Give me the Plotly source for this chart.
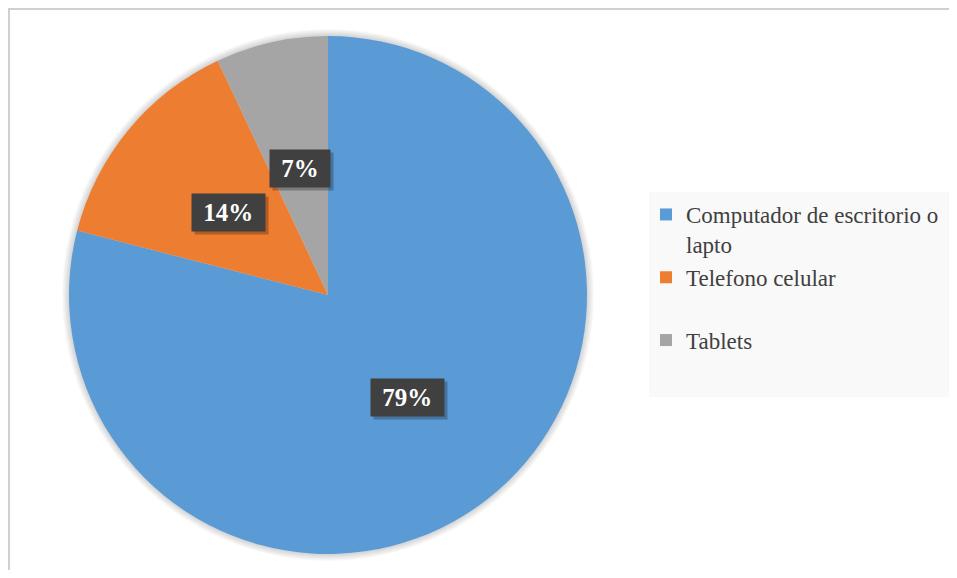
import math
import plotly.graph_objects as go

# ---- data ----
categories = ["Computador de escritorio o<br>lapto", "Telefono celular<br> ", "Tablets"]
values = [79, 14, 7]
colors = ["#5B9BD5", "#ED7D31", "#A5A5A5"]

# ---- layout geometry (screen pixels; page body has 8px margin) ----
OFF = 8
W, H = 957 - 2 * OFF, 578 - 2 * OFF
CX, CY, R = 328, 295, 259
SERIF = "Liberation Serif, Times New Roman, serif"


def px(x):
    return (x - OFF) / W


def py(y):
    return 1 - (y - OFF) / H


fig = go.Figure()
fig.add_trace(go.Pie(
    labels=categories,
    values=values,
    marker=dict(colors=colors, line=dict(width=0)),
    sort=False,
    direction="clockwise",
    rotation=0,
    textinfo="none",
    hoverinfo="label+percent",
    domain=dict(x=[px(CX - R), px(CX + R)], y=[py(CY + R), py(CY - R)]),
))

# soft shadow around pie
shapes = []
for i in range(1, 8):
    rr = R + i
    shapes.append(dict(type="circle", xref="paper", yref="paper",
                       x0=px(CX - rr), x1=px(CX + rr), y0=py(CY + rr), y1=py(CY - rr),
                       fillcolor="rgba(0,0,0,0.022)", line=dict(width=0), layer="below"))
# chart border (left and top edges visible)
shapes.append(dict(type="line", xref="paper", yref="paper",
                   x0=px(9), x1=px(9), y0=0, y1=py(8),
                   line=dict(color="#D0D0D0", width=2), layer="below"))
shapes.append(dict(type="line", xref="paper", yref="paper",
                   x0=px(8), x1=1, y0=py(9), y1=py(9),
                   line=dict(color="#D0D0D0", width=2), layer="below"))
# legend background
shapes.append(dict(type="rect", xref="paper", yref="paper",
                   x0=px(649), x1=px(952), y0=py(397), y1=py(192),
                   line=dict(width=0), fillcolor="#F9F9F9", layer="below"))

# data labels at mid-angle, half radius
annotations = []
total = sum(values)
cum = 0
for v in values:
    mid = (cum + v / 2) / total
    cum += v
    th = 2 * math.pi * mid
    lx = CX + 0.5 * R * math.sin(th)
    ly = CY - 0.5 * R * math.cos(th)
    txt = f"<b> {round(100 * v / total)}% </b>"
    common = dict(x=px(lx), y=py(ly), xref="paper", yref="paper", text=txt,
                  showarrow=False, xanchor="center", yanchor="middle", borderpad=5)
    # shadow
    annotations.append(dict(**common, xshift=3, yshift=-3,
                            font=dict(family=SERIF, size=25, color="rgba(0,0,0,0)"),
                            bgcolor="rgba(0,0,0,0.25)"))
    annotations.append(dict(**common,
                            font=dict(family=SERIF, size=25, color="#FFFFFF"),
                            bgcolor="#404040"))

fig.update_layout(
    width=W, height=H,
    margin=dict(l=0, r=0, t=0, b=0),
    paper_bgcolor="#FFFFFF",
    font=dict(family=SERIF, color="#404040"),
    shapes=shapes,
    annotations=annotations,
    showlegend=True,
    legend=dict(x=px(646), y=py(193), xanchor="left", yanchor="top",
                bgcolor="rgba(0,0,0,0)", valign="top", itemwidth=30,
                font=dict(family=SERIF, size=23, color="#404040"),
                tracegroupgap=0),
)

fig.write_html("out.html")
